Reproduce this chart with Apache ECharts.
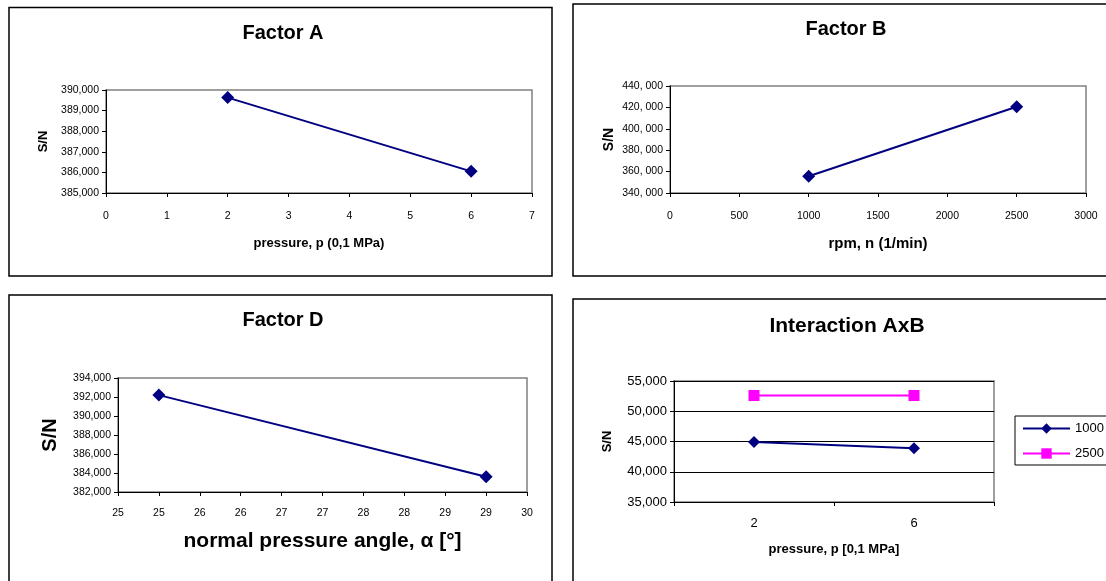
<!DOCTYPE html>
<html>
<head>
<meta charset="utf-8">
<script src="https://cdn.jsdelivr.net/npm/echarts@6/dist/echarts.min.js"></script>
<style>
html,body{margin:0;padding:0;background:#fff;}
#c{width:1106px;height:581px;}
</style>
</head>
<body>
<div id="c"></div>
<script>
// ---- data ----
const titles = ['Factor A', 'Factor B', 'Factor D', 'Interaction AxB'];
const aX = [2, 6];
const aY = [389.630, 386.050];
const bX = [1000, 2500];
const bY = [355.6, 420.6];
const dX = [25, 29];
const dY = [392.2, 383.6];
const dXTickLabels = ['25','25','26','26','27','27','28','28','29','29','30'];
const iCategories = ['2', '6'];
const iSeriesNames = ['1000', '2500'];
const i1000 = [44.9, 43.9];
const i2500 = [52.6, 52.6];

const FONT = '"Liberation Sans", Arial, Helvetica, sans-serif';
const NAVY = '#000080';
const MAG = '#FF00FF';

function fmtComma(v) { return v.toFixed(3).replace('.', ','); }
function fmtCommaSpace(v) { return v.toFixed(3).replace('.', ', '); }

function pairs(xs, ys) { return xs.map((x, i) => [x, ys[i]]); }

const axisLineStyle = { show: true, lineStyle: { color: '#000', width: 1 } };
const tickStyle = { show: true, inside: false, length: 4, lineStyle: { color: '#000', width: 1 } };

function valX(gi, min, max, interval, name, nameSize, nameGap, labelSize, labelMargin, formatter) {
  return {
    type: 'value', gridIndex: gi, min: min, max: max, interval: interval,
    name: name, nameLocation: 'middle', nameGap: nameGap,
    nameTextStyle: { fontFamily: FONT, fontSize: nameSize, fontWeight: 'bold', color: '#000' },
    axisLine: axisLineStyle, axisTick: tickStyle, splitLine: { show: false },
    axisLabel: { fontFamily: FONT, fontSize: labelSize, color: '#000', margin: labelMargin,
      showMinLabel: true, showMaxLabel: true, formatter: formatter }
  };
}
function valY(gi, min, max, interval, nameSize, nameGap, labelSize, formatter, split) {
  return {
    type: 'value', gridIndex: gi, min: min, max: max, interval: interval,
    name: 'S/N', nameLocation: 'middle', nameGap: nameGap, nameRotate: 90,
    nameTextStyle: { fontFamily: FONT, fontSize: nameSize, fontWeight: 'bold', color: '#000' },
    axisLine: axisLineStyle, axisTick: tickStyle,
    splitLine: { show: !!split, lineStyle: { color: '#000', width: 1 } },
    axisLabel: { fontFamily: FONT, fontSize: labelSize, color: '#000', margin: 7,
      showMinLabel: true, showMaxLabel: true, formatter: formatter }
  };
}

const gridBase = { show: true, borderColor: '#808080', borderWidth: 1.5, containLabel: false };

const option = {
  animation: false,
  backgroundColor: '#fff',
  grid: [
    Object.assign({ left: 106, top: 90, width: 426, height: 103 }, gridBase),
    Object.assign({ left: 670, top: 86, width: 416, height: 107 }, gridBase),
    Object.assign({ left: 118, top: 378, width: 409, height: 114 }, gridBase),
    Object.assign({ left: 674, top: 381, width: 320, height: 121 }, gridBase)
  ],
  xAxis: [
    valX(0, 0, 7, 1, 'pressure, p (0,1 MPa)', 13, 44, 10.5, 18, v => String(v)),
    valX(1, 0, 3000, 500, 'rpm, n (1/min)', 15, 43, 10.5, 18, v => String(v)),
    valX(2, 24.5, 29.5, 0.5, 'normal pressure angle, \u03b1 [\u00b0]', 21, 39, 10.5, 16,
      (v, idx) => dXTickLabels[Math.round((v - 24.5) / 0.5)]),
    {
      type: 'category', gridIndex: 3, data: iCategories, boundaryGap: true,
      name: 'pressure, p [0,1 MPa]', nameLocation: 'middle', nameGap: 41,
      nameTextStyle: { fontFamily: FONT, fontSize: 13, fontWeight: 'bold', color: '#000' },
      axisLine: axisLineStyle, axisTick: Object.assign({ alignWithLabel: false }, tickStyle),
      splitLine: { show: false },
      axisLabel: { fontFamily: FONT, fontSize: 13, color: '#000', margin: 15 }
    }
  ],
  yAxis: [
    valY(0, 385, 390, 1, 13, 56, 10.5, fmtComma),
    valY(1, 340, 440, 20, 14, 54, 10.5, fmtCommaSpace),
    valY(2, 382, 394, 2, 20, 58, 10.5, fmtComma),
    valY(3, 35, 55, 5, 13, 60, 13, fmtComma, true)
  ],
  legend: {
    orient: 'vertical', left: 1015, top: 416,
    data: iSeriesNames,
    itemWidth: 47, itemHeight: 13, itemGap: 12,
    textStyle: { fontFamily: FONT, fontSize: 13, color: '#000' },
    borderColor: '#000', borderWidth: 1, padding: [6, 14, 5, 7],
    backgroundColor: '#fff'
  },
  graphic: [
    { type: 'rect', shape: { x: 9, y: 7.5, width: 543, height: 268.5 }, style: { fill: null, stroke: '#000', lineWidth: 1.5 }, z: -10 },
    { type: 'rect', shape: { x: 573, y: 4, width: 600, height: 272 }, style: { fill: null, stroke: '#000', lineWidth: 1.5 }, z: -10 },
    { type: 'rect', shape: { x: 9, y: 295, width: 543, height: 400 }, style: { fill: null, stroke: '#000', lineWidth: 1.5 }, z: -10 },
    { type: 'rect', shape: { x: 573, y: 299, width: 600, height: 400 }, style: { fill: null, stroke: '#000', lineWidth: 1.5 }, z: -10 },
    { type: 'text', x: 283, y: 33, style: { text: titles[0], font: 'bold 20px ' + FONT, fill: '#000', textAlign: 'center', textVerticalAlign: 'middle' } },
    { type: 'text', x: 846, y: 29, style: { text: titles[1], font: 'bold 20px ' + FONT, fill: '#000', textAlign: 'center', textVerticalAlign: 'middle' } },
    { type: 'text', x: 283, y: 320, style: { text: titles[2], font: 'bold 20px ' + FONT, fill: '#000', textAlign: 'center', textVerticalAlign: 'middle' } },
    { type: 'text', x: 847, y: 326, style: { text: titles[3], font: 'bold 21px ' + FONT, fill: '#000', textAlign: 'center', textVerticalAlign: 'middle' } }
  ],
  series: [
    { type: 'line', xAxisIndex: 0, yAxisIndex: 0, data: pairs(aX, aY), symbol: 'diamond', symbolSize: 13,
      lineStyle: { color: NAVY, width: 2 }, itemStyle: { color: NAVY } },
    { type: 'line', xAxisIndex: 1, yAxisIndex: 1, data: pairs(bX, bY), symbol: 'diamond', symbolSize: 13,
      lineStyle: { color: NAVY, width: 2 }, itemStyle: { color: NAVY } },
    { type: 'line', xAxisIndex: 2, yAxisIndex: 2, data: pairs(dX, dY), symbol: 'diamond', symbolSize: 13,
      lineStyle: { color: NAVY, width: 2 }, itemStyle: { color: NAVY } },
    { type: 'line', name: iSeriesNames[0], xAxisIndex: 3, yAxisIndex: 3, data: i1000, symbol: 'diamond', symbolSize: 12,
      lineStyle: { color: NAVY, width: 2 }, itemStyle: { color: NAVY } },
    { type: 'line', name: iSeriesNames[1], xAxisIndex: 3, yAxisIndex: 3, data: i2500, symbol: 'rect', symbolSize: 11,
      lineStyle: { color: MAG, width: 2 }, itemStyle: { color: MAG } }
  ]
};

const chart = echarts.init(document.getElementById('c'), null, { renderer: 'canvas' });
chart.setOption(option);
</script>
</body>
</html>
